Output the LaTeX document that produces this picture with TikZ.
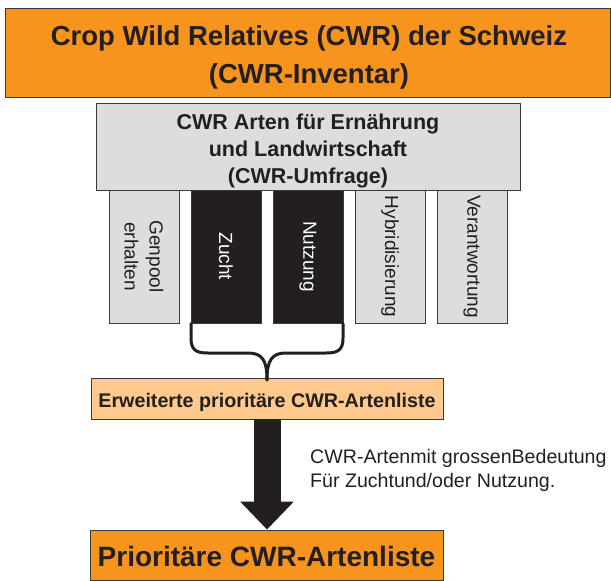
\documentclass[tikz,border=0pt]{standalone}
\usepackage{fontspec}
\setmainfont{Liberation Sans}
\usetikzlibrary{arrows.meta}
\definecolor{orangeA}{HTML}{F7941D}
\definecolor{orangeB}{HTML}{FDC98D}
\definecolor{grayA}{HTML}{DCDDDF}
\definecolor{blackA}{HTML}{231F20}
\definecolor{lineA}{HTML}{3A3A3A}
\tikzset{
  box/.style={draw=lineA, line width=0.9pt, inner sep=0pt, align=center, text=blackA},
  txt/.style={anchor=base, inner sep=0pt, text=blackA},
  colgray/.style={box, fill=grayA, rotate=-90, minimum width=133pt, minimum height=70pt,
    font=\fontsize{19}{25}\selectfont},
  colblack/.style={box, fill=blackA, text=white, rotate=-90, minimum width=133pt, minimum height=70pt,
    font=\fontsize{19}{25}\selectfont},
  bracestyle/.style={line width=3pt, draw=blackA, line join=round, line cap=round},
}
\begin{document}
\begin{tikzpicture}[x=1pt,y=-1pt]
\useasboundingbox (0,0) rectangle (611,581);
% top box
\node[box, fill=orangeA, minimum width=605pt, minimum height=89pt] (top) at (307.5,52.5) {};
\node[txt, font=\fontsize{27.5}{36}\selectfont\bfseries] (t1) at (309,45)
  {Crop Wild Relatives (CWR) der Schweiz};
\node[txt, font=\fontsize{27.5}{36}\selectfont\bfseries] (t2) at (309,83)
  {(CWR-Inventar)};
% survey box
\node[box, fill=grayA, minimum width=424pt, minimum height=87pt] (umf) at (308,146.5) {};
\node[txt, font=\fontsize{21.5}{27}\selectfont\bfseries] (u1) at (308,129) {CWR Arten für Ernährung};
\node[txt, font=\fontsize{21.5}{27}\selectfont\bfseries] (u2) at (308,156) {und Landwirtschaft};
\node[txt, font=\fontsize{21.5}{27}\selectfont\bfseries] (u3) at (308,183) {(CWR-Umfrage)};
% columns
\node[colgray] (gen) at (144,256.5) {Genpool\\erhalten};
\node[colblack] (zucht) at (226,256.5) {Zucht};
\node[colblack] (nutz) at (308,256.5) {Nutzung};
\node[colgray] (hyb) at (390,256.5) {Hybridisierung};
\node[colgray] (ver) at (472,256.5) {Verantwortung};
% extended list
\node[box, fill=orangeB, minimum width=352pt, minimum height=41pt] (erw) at (267,398.5) {};
\node[txt, font=\fontsize{19.7}{24}\selectfont\bfseries] (erwt) at (267,407)
  {Erweiterte prioritäre CWR-Artenliste};
% final list
\node[box, fill=orangeA, minimum width=353pt, minimum height=50pt] (prio) at (266.5,555) {};
\node[txt, font=\fontsize{28}{34}\selectfont\bfseries] (priot) at (266.5,566)
  {Prioritäre CWR-Artenliste};
% brace
\coordinate (tip) at (267,380);
\draw[bracestyle] (191,323.5) -- (191,338) .. controls (191,350) and (196,353) .. (208,353)
  -- (248,353) .. controls (262,353) and (267,360) .. (tip);
\draw[bracestyle] (343,323.5) -- (343,338) .. controls (343,350) and (338,353) .. (326,353)
  -- (286,353) .. controls (272,353) and (267,360) .. (tip);
% arrow
\draw[blackA, line width=27pt, -{Triangle[width=52pt,length=28pt]}]
  (erw.south -| tip) -- (prio.north -| tip);
\node[txt, anchor=base west, font=\fontsize{19.6}{24}\selectfont] (l1) at (310,463)
  {CWR-Artenmit grossenBedeutung};
\node[txt, anchor=base west, font=\fontsize{19.6}{24}\selectfont] (l2) at (310,487)
  {Für Zuchtund/oder Nutzung.};
\end{tikzpicture}
\end{document}
